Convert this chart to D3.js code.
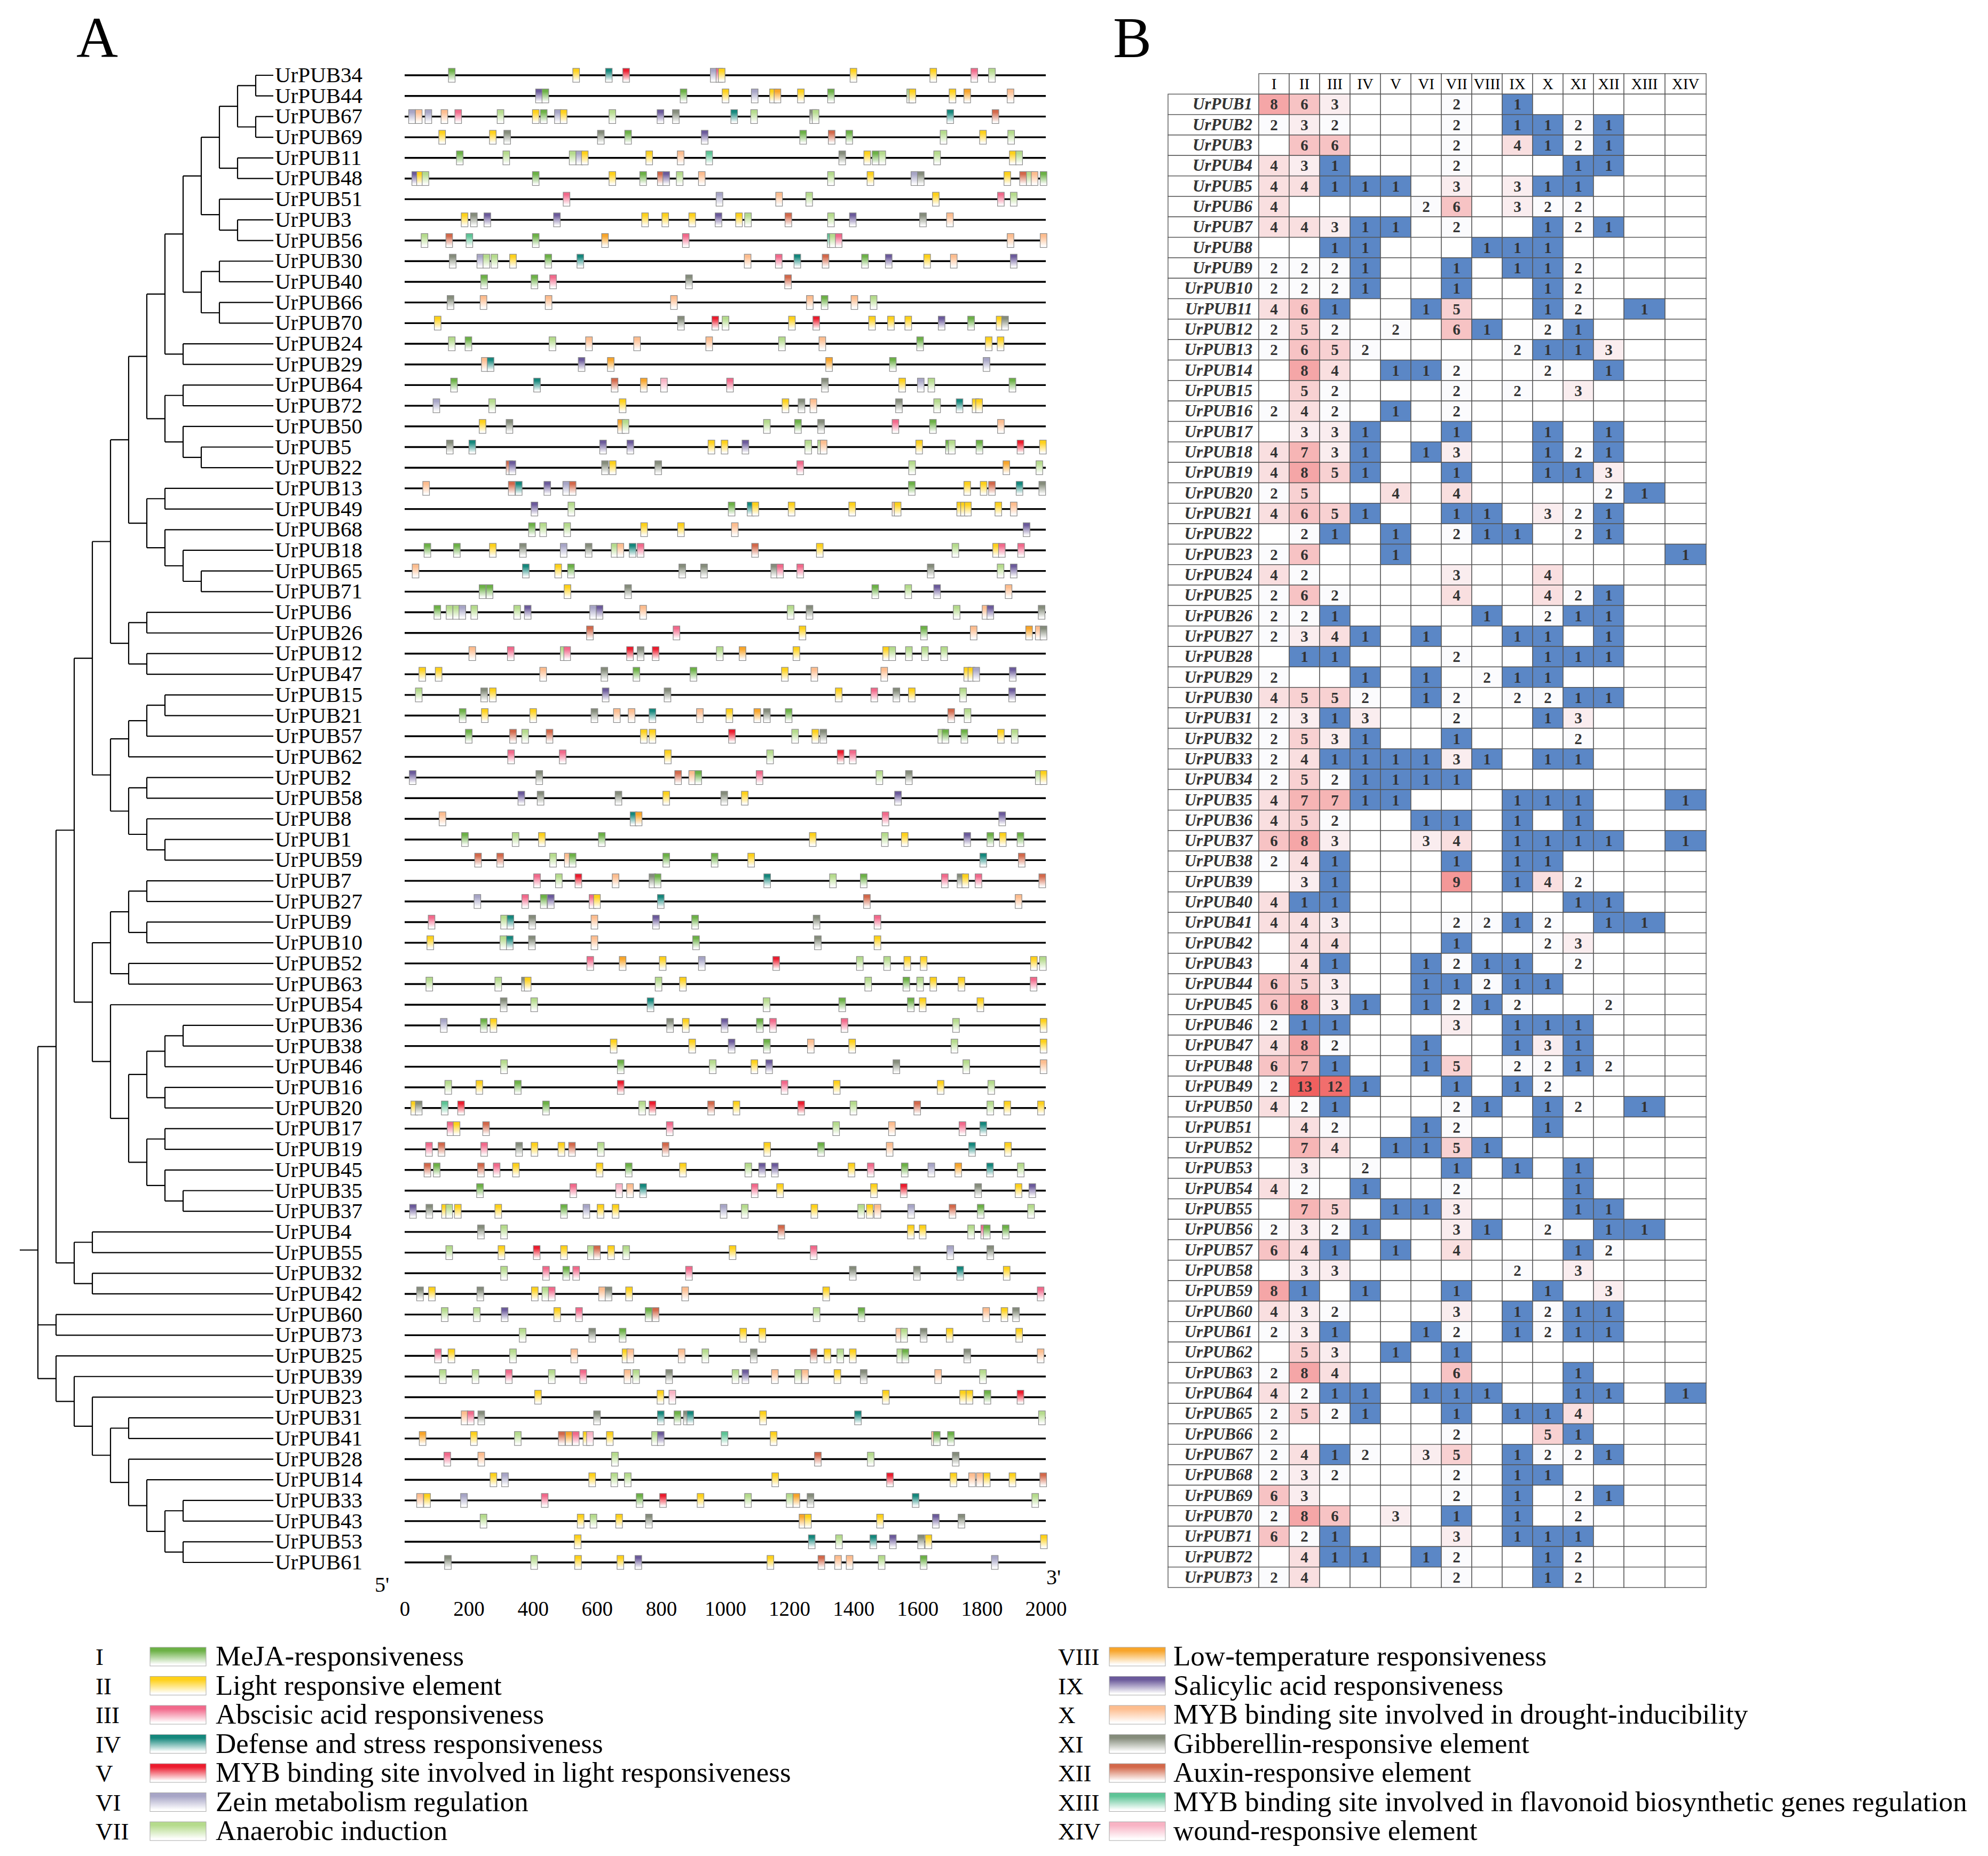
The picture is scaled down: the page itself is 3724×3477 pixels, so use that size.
<!DOCTYPE html>
<html>
<head>
<meta charset="utf-8">
<script src="https://cdn.jsdelivr.net/npm/d3@7"></script>
<style>
body { margin: 0; background: #fff; }
svg { display: block; }
</style>
</head>
<body>
<div id="chart"></div>
<script>
// element classes (legend order)
var classIds = ["I","II","III","IV","V","VI","VII","VIII","IX","X","XI","XII","XIII","XIV"];
var classNames = [
  "MeJA-responsiveness",
  "Light responsive element",
  "Abscisic acid responsiveness",
  "Defense and stress responsiveness",
  "MYB binding site involved in light responsiveness",
  "Zein metabolism regulation",
  "Anaerobic induction",
  "Low-temperature responsiveness",
  "Salicylic acid responsiveness",
  "MYB binding site involved in drought-inducibility",
  "Gibberellin-responsive element",
  "Auxin-responsive element",
  "MYB binding site involved in flavonoid biosynthetic genes regulation",
  "wound-responsive element"
];
var classColors = ["#6cb146","#ffd11a","#f2698b","#14877c","#ec1c2e","#a7a5c6","#b5db8c",
                   "#f8a52a","#6b5a9b","#fdbd8f","#858c7b","#d3684a","#5dc496","#f8b3c4"];

// cladogram (gene numbers, prefix UrPUB added when parsed)
var cladeUpper = "((((((((((34,44),(67,69)),(11,48)),(51,(3,56))),((30,40),(66,70))),(24,29)),((64,72),(50,(5,22)))),((13,49),(68,(18,(65,71))))),((6,26),(12,47))),((((15,21),57),62),((2,58),(8,(1,59)))))";
var cladeMiddle = "((((7,27),(9,10)),(52,63)),(54,((((36,38),46),(16,20)),((17,19),(45,(35,37))))))";
var cladeSmall = "((4,55),(32,42))";
var cladePair = "(60,73)";
var cladeLower = "(25,(39,(23,((31,41),(28,(14,((33,43),(53,61))))))))";
var treeNewick = "(((" + cladeUpper + "," + cladeMiddle + ")," + cladeSmall + ")," + cladePair + "," + cladeLower + ")";

// panel B counts, rows UrPUB1..UrPUB73, columns I..XIV (0 = empty)
var cisCounts = [
  [8,6,3,0,0,0,2,0,1,0,0,0,0,0],[2,3,2,0,0,0,2,0,1,1,2,1,0,0],[0,6,6,0,0,0,2,0,4,1,2,1,0,0],
  [4,3,1,0,0,0,2,0,0,0,1,1,0,0],[4,4,1,1,1,0,3,0,3,1,1,0,0,0],[4,0,0,0,0,2,6,0,3,2,2,0,0,0],
  [4,4,3,1,1,0,2,0,0,1,2,1,0,0],[0,0,1,1,0,0,0,1,1,1,0,0,0,0],[2,2,2,1,0,0,1,0,1,1,2,0,0,0],
  [2,2,2,1,0,0,1,0,0,1,2,0,0,0],[4,6,1,0,0,1,5,0,0,1,2,0,1,0],[2,5,2,0,2,0,6,1,0,2,1,0,0,0],
  [2,6,5,2,0,0,0,0,2,1,1,3,0,0],[0,8,4,0,1,1,2,0,0,2,0,1,0,0],[0,5,2,0,0,0,2,0,2,0,3,0,0,0],
  [2,4,2,0,1,0,2,0,0,0,0,0,0,0],[0,3,3,1,0,0,1,0,0,1,0,1,0,0],[4,7,3,1,0,1,3,0,0,1,2,1,0,0],
  [4,8,5,1,0,0,1,0,0,1,1,3,0,0],[2,5,0,0,4,0,4,0,0,0,0,2,1,0],[4,6,5,1,0,0,1,1,0,3,2,1,0,0],
  [0,2,1,0,1,0,2,1,1,0,2,1,0,0],[2,6,0,0,1,0,0,0,0,0,0,0,0,1],[4,2,0,0,0,0,3,0,0,4,0,0,0,0],
  [2,6,2,0,0,0,4,0,0,4,2,1,0,0],[2,2,1,0,0,0,0,1,0,2,1,1,0,0],[2,3,4,1,0,1,0,0,1,1,0,1,0,0],
  [0,1,1,0,0,0,2,0,0,1,1,1,0,0],[2,0,0,1,0,1,0,2,1,1,0,0,0,0],[4,5,5,2,0,1,2,0,2,2,1,1,0,0],
  [2,3,1,3,0,0,2,0,0,1,3,0,0,0],[2,5,3,1,0,0,1,0,0,0,2,0,0,0],[2,4,1,1,1,1,3,1,0,1,1,0,0,0],
  [2,5,2,1,1,1,1,0,0,0,0,0,0,0],[4,7,7,1,1,0,0,0,1,1,1,0,0,1],[4,5,2,0,0,1,1,0,1,0,1,0,0,0],
  [6,8,3,0,0,3,4,0,1,1,1,1,0,1],[2,4,1,0,0,0,1,0,1,1,0,0,0,0],[0,3,1,0,0,0,9,0,1,4,2,0,0,0],
  [4,1,1,0,0,0,0,0,0,0,1,1,0,0],[4,4,3,0,0,0,2,2,1,2,0,1,1,0],[0,4,4,0,0,0,1,0,0,2,3,0,0,0],
  [0,4,1,0,0,1,2,1,1,0,2,0,0,0],[6,5,3,0,0,1,1,2,1,1,0,0,0,0],[6,8,3,1,0,1,2,1,2,0,0,2,0,0],
  [2,1,1,0,0,0,3,0,1,1,1,0,0,0],[4,8,2,0,0,1,0,0,1,3,1,0,0,0],[6,7,1,0,0,1,5,0,2,2,1,2,0,0],
  [2,13,12,1,0,0,1,0,1,2,0,0,0,0],[4,2,1,0,0,0,2,1,0,1,2,0,1,0],[0,4,2,0,0,1,2,0,0,1,0,0,0,0],
  [0,7,4,0,1,1,5,1,0,0,0,0,0,0],[0,3,0,2,0,0,1,0,1,0,1,0,0,0],[4,2,0,1,0,0,2,0,0,0,1,0,0,0],
  [0,7,5,0,1,1,3,0,0,0,1,1,0,0],[2,3,2,1,0,0,3,1,0,2,0,1,1,0],[6,4,1,0,1,0,4,0,0,0,1,2,0,0],
  [0,3,3,0,0,0,0,0,2,0,3,0,0,0],[8,1,0,1,0,0,1,0,0,1,0,3,0,0],[4,3,2,0,0,0,3,0,1,2,1,1,0,0],
  [2,3,1,0,0,1,2,0,1,2,1,1,0,0],[0,5,3,0,1,0,1,0,0,0,0,0,0,0],[2,8,4,0,0,0,6,0,0,0,1,0,0,0],
  [4,2,1,1,0,1,1,1,0,0,1,1,0,1],[2,5,2,1,0,0,1,0,1,1,4,0,0,0],[2,0,0,0,0,0,2,0,0,5,1,0,0,0],
  [2,4,1,2,0,3,5,0,1,2,2,1,0,0],[2,3,2,0,0,0,2,0,1,1,0,0,0,0],[6,3,0,0,0,0,2,0,1,0,2,1,0,0],
  [2,8,6,0,3,0,1,0,1,0,2,0,0,0],[6,2,1,0,0,0,3,0,1,1,1,0,0,0],[0,4,1,1,0,1,2,0,0,1,2,0,0,0],
  [2,4,0,0,0,0,2,0,0,1,2,0,0,0]
];

// panel A: element position (bp from 5') and class, per gene
var promoterSites = [
  ["UrPUB34","147:I 535:II 637:IV 691:V 964:VI 982:III 989:II 1400:II 1649:II 1777:III 1832:VII"],
  ["UrPUB44","419:IX 439:I 870:I 1001:II 1092:VI 1149:II 1163:VIII 1236:II 1330:I 1577:VII 1584:II 1709:II 1755:VIII 1890:X"],
  ["UrPUB67","23:VI 44:X 74:VI 124:X 167:III 299:VII 409:II 434:I 478:VI 496:II 648:VII 798:IX 846:XI 1028:IV 1090:VII 1274:XI 1282:VII 1702:IV 1843:XII"],
  ["UrPUB69","117:II 275:II 320:XI 612:XI 697:I 936:IX 1243:I 1332:XII 1387:I 1681:VII 1804:II 1892:VII"],
  ["UrPUB11","172:I 317:VII 524:VII 545:VI 562:II 763:II 861:X 950:XIII 1365:XI 1443:II 1469:I 1490:VII 1661:VII 1897:II 1917:VII"],
  ["UrPUB48","33:IX 48:II 65:VII 409:I 648:II 744:I 799:XII 816:IX 858:VII 927:X 1330:VII 1453:II 1590:VI 1610:XI 1880:II 1929:XII 1950:VII 1965:X 1993:I"],
  ["UrPUB51","505:III 982:VI 1168:X 1262:VII 1657:II 1860:III 1900:VII"],
  ["UrPUB3","187:II 216:XI 258:IX 475:IX 750:II 813:II 897:II 979:IX 1043:II 1071:VII 1197:XII 1330:VII 1398:IX 1617:XI 1701:X"],
  ["UrPUB56","62:VII 139:XII 202:XIII 409:I 625:VIII 877:III 1329:XIII 1336:VII 1354:III 1890:X 1993:X"],
  ["UrPUB30","150:XI 236:VI 255:VII 280:VII 338:II 448:I 548:IV 1070:X 1167:III 1225:IV 1313:XII 1436:I 1510:IX 1630:II 1713:X 1900:IX"],
  ["UrPUB40","248:I 405:I 463:III 887:XI 1196:XII"],
  ["UrPUB66","143:XI 246:X 449:X 840:X 1264:X 1310:I 1403:X 1463:VII"],
  ["UrPUB70","103:II 862:XI 969:V 1001:VII 1208:II 1284:V 1458:II 1517:II 1571:II 1675:IX 1767:I 1856:II 1873:XI"],
  ["UrPUB24","147:VII 199:I 461:VII 575:X 725:X 950:X 1177:VII 1303:X 1608:I 1822:II 1859:II"],
  ["UrPUB29","250:X 268:IV 552:IX 643:VIII 1324:VIII 1523:I 1815:VI"],
  ["UrPUB64","154:I 413:IV 655:XII 746:VIII 809:XIV 1015:III 1311:XI 1552:II 1610:VI 1643:VII 1896:I"],
  ["UrPUB72","99:VI 273:VII 680:II 1188:II 1238:XI 1275:X 1542:XI 1661:VII 1731:IV 1781:II 1792:II"],
  ["UrPUB50","243:II 327:XI 675:VIII 689:VII 1130:VII 1227:I 1299:XI 1531:III 1648:I 1860:X"],
  ["UrPUB5","141:XI 211:IV 619:IX 704:IX 957:II 998:II 1063:IX 1259:VII 1299:VII 1307:X 1605:II 1698:I 1707:VII 1793:I 1921:V 1991:II"],
  ["UrPUB22","327:XII 336:IX 625:XI 649:II 791:XI 1234:III 1583:VII 1877:VIII 1980:VII"],
  ["UrPUB13","67:X 334:XII 356:IV 445:IX 504:VI 524:XII 1582:I 1755:II 1806:II 1832:XII 1918:IV 1989:XI"],
  ["UrPUB49","405:IX 520:VII 1020:I 1079:IV 1094:II 1207:II 1396:II 1531:X 1538:II 1733:II 1745:II 1757:II 1852:II 1900:X"],
  ["UrPUB68","397:I 432:VII 507:VII 747:II 862:II 1030:X 1940:IX"],
  ["UrPUB18","71:I 163:I 275:II 369:XI 496:VI 574:XI 655:VII 673:X 711:IV 736:III 1093:XII 1295:II 1718:VII 1845:II 1863:III 1923:III"],
  ["UrPUB65","34:X 378:IV 479:II 519:I 866:XI 934:XI 1153:XI 1171:III 1234:III 1641:XI 1859:VII 1900:IX"],
  ["UrPUB71","243:I 265:I 508:II 697:XI 1468:I 1571:VII 1661:IX 1884:X"],
  ["UrPUB6","102:I 140:VII 161:VII 180:VI 217:VII 351:VII 384:IX 588:VI 608:IX 744:X 1204:VII 1263:XI 1722:VII 1812:X 1827:IX 1987:XI"],
  ["UrPUB26","578:XII 848:III 1241:II 1620:I 1775:X 1948:VIII 1978:X 1993:XI"],
  ["UrPUB12","211:X 331:III 496:VII 507:III 703:V 736:XI 783:V 983:VII 1054:VIII 1222:II 1502:II 1521:VII 1573:VII 1623:VII 1683:VII"],
  ["UrPUB47","55:II 106:II 432:X 623:XI 723:I 901:I 1186:II 1278:X 1496:X 1755:II 1768:II 1783:VI 1897:IX"],
  ["UrPUB15","44:VII 248:XI 275:II 627:IX 820:XI 1354:II 1465:III 1534:XI 1582:II 1742:VII 1895:IX"],
  ["UrPUB21","181:I 250:II 401:II 592:XI 662:X 708:X 773:IV 921:X 1013:II 1100:VIII 1130:XI 1198:I 1705:XII 1756:VII"],
  ["UrPUB57","200:I 338:XII 376:VII 452:XII 746:II 773:II 1021:V 1218:VII 1281:II 1306:XI 1674:VII 1687:I 1746:I 1860:II 1903:VII"],
  ["UrPUB62","332:III 493:III 821:II 1140:VII 1360:V 1398:III"],
  ["UrPUB2","25:IX 420:XI 853:XII 897:X 916:I 1107:III 1481:VII 1573:XI 1978:VII 1993:II"],
  ["UrPUB58","364:IX 424:XI 667:XI 816:II 997:XI 1061:II 1539:IX"],
  ["UrPUB8","118:X 714:IV 730:VIII 1500:III 1864:IX"],
  ["UrPUB1","188:I 346:VII 428:II 615:I 1273:II 1498:VII 1560:II 1755:IX 1827:I 1866:II 1921:I"],
  ["UrPUB59","229:XII 298:XII 463:VII 509:X 524:I 816:I 967:I 1081:II 1805:IV 1925:XII"],
  ["UrPUB7","413:III 481:VII 542:V 658:X 773:XI 789:I 1131:IV 1336:VII 1432:I 1685:III 1734:XI 1749:II 1790:III 1989:XII"],
  ["UrPUB27","227:VI 376:III 434:I 456:IX 586:III 600:II 799:IV 1442:XII 1915:X"],
  ["UrPUB9","84:III 310:VII 330:IV 398:XI 592:X 784:IX 906:I 1285:XI 1475:III"],
  ["UrPUB10","80:II 308:VII 328:IV 397:XI 592:X 909:I 1289:XI 1475:II"],
  ["UrPUB52","579:III 680:VIII 805:II 927:VI 1159:V 1420:VII 1505:VII 1568:II 1619:II 1963:II 1991:VII"],
  ["UrPUB63","77:VII 292:VII 375:XI 384:II 792:VII 868:II 1446:VII 1565:I 1608:VII 1649:II 1737:II 1962:III"],
  ["UrPUB54","309:XI 404:VII 767:IV 1129:VII 1365:I 1579:I 1616:II 1796:II"],
  ["UrPUB36","122:VI 247:I 277:II 828:XI 877:II 998:IX 1108:I 1149:III 1372:III 1720:VII 1993:II"],
  ["UrPUB38","652:II 897:II 1020:IX 1130:I 1267:X 1396:II 1715:VII 1993:II"],
  ["UrPUB46","310:VII 674:I 961:VII 1091:II 1137:IX 1534:XI 1752:VII 1993:X"],
  ["UrPUB16","136:VII 233:II 353:I 674:V 1185:III 1348:II 1672:II 1830:VII"],
  ["UrPUB20","30:II 44:XI 125:XIII 176:V 441:I 741:VII 773:V 956:XII 1035:II 1237:V 1400:VII 1599:XII 1827:VII 1880:II 1985:II"],
  ["UrPUB17","143:III 162:II 254:XII 827:III 1346:VII 1520:X 1740:III 1805:IV"],
  ["UrPUB19","76:III 115:XII 248:III 357:XI 405:II 489:II 522:XII 612:VII 814:XII 1131:II 1299:I 1513:X 1770:IV 1882:II"],
  ["UrPUB45","71:XII 100:I 238:XII 287:III 347:II 608:II 699:I 868:II 1072:VII 1115:IX 1155:IX 1394:II 1454:III 1560:I 1643:VI 1727:VIII 1826:IV 1922:VII"],
  ["UrPUB35","235:I 526:III 669:XIV 703:X 744:IV 1092:III 1171:II 1464:II 1557:V 1789:XI 1915:II 1958:IX"],
  ["UrPUB37","26:IX 77:XI 126:II 139:VII 166:II 292:II 497:I 567:VI 611:II 658:II 995:VI 1061:VII 1278:II 1424:VII 1451:II 1475:X 1580:VI 1709:XII 1797:I 1954:VII"],
  ["UrPUB4","238:XI 310:VII 1175:XII 1579:II 1616:II 1767:VII 1808:III 1816:I 1875:I"],
  ["UrPUB55","139:VII 302:II 412:V 497:II 581:VII 600:XII 644:II 691:VII 1023:II 1276:III 1702:VI 1827:XI"],
  ["UrPUB32","310:VII 441:III 504:I 535:III 887:III 1398:XI 1598:XI 1733:IV 1878:II"],
  ["UrPUB42","48:XI 85:II 236:XI 406:II 439:VII 459:III 616:X 636:XI 700:II 875:X 1315:II 1984:III"],
  ["UrPUB60","125:VII 225:VII 312:IX 476:II 544:III 761:I 783:XII 1285:VII 1425:I 1814:X 1871:II 1907:XI"],
  ["UrPUB73","368:VII 585:XI 680:I 1056:II 1116:II 1543:X 1558:VII 1619:XI 1700:II 1917:II"],
  ["UrPUB25","104:III 146:II 338:VII 529:X 689:II 704:X 864:X 938:VII 1089:XI 1276:XII 1319:II 1359:VII 1398:II 1546:VII 1562:I 1755:XI 1984:X"],
  ["UrPUB39","119:VII 221:VII 325:III 459:VII 557:III 695:X 722:VII 825:XI 1032:VII 1063:IX 1155:X 1227:VII 1249:X 1350:II 1432:XI 1664:X 1804:VII"],
  ["UrPUB23","416:II 798:II 835:XIV 1501:II 1742:II 1762:II 1818:I 1921:V"],
  ["UrPUB31","187:X 206:III 239:XI 600:XI 799:IV 851:I 880:XI 891:IV 1118:II 1414:IV 1988:VII"],
  ["UrPUB41","56:VIII 216:II 353:VII 490:XII 512:VIII 534:III 567:II 578:XIV 640:II 781:VII 799:IX 998:XIII 1151:II 1654:X 1660:I 1704:I"],
  ["UrPUB28","133:III 239:X 656:VII 1289:XII 1454:VII 1719:XI"],
  ["UrPUB14","277:II 313:VI 585:II 654:VII 696:VII 1156:II 1514:V 1712:II 1770:X 1794:X 1816:II 1896:II 1992:XII"],
  ["UrPUB33","48:X 70:II 185:VI 437:III 733:I 806:V 923:II 1071:VII 1201:VII 1222:VIII 1266:XI 1594:IV 1967:VII"],
  ["UrPUB43","246:VII 549:II 589:VII 669:II 762:XI 1241:VIII 1258:II 1483:II 1657:IX 1737:XI"],
  ["UrPUB53","540:II 1270:IV 1355:VII 1462:IV 1523:IX 1611:XI 1634:II 1994:II"],
  ["UrPUB61","135:XI 404:VII 541:II 673:II 729:IX 1141:II 1300:XII 1352:X 1388:X 1488:VII 1619:I 1841:VI"]
];

var axisTicks = [0,200,400,600,800,1000,1200,1400,1600,1800,2000];

var W = 3724, H = 3477;
var serif = "'Liberation Serif','Times New Roman',serif";

var svg = d3.select("#chart").append("svg")
  .attr("width", W).attr("height", H)
  .style("font-family", serif);

svg.append("rect").attr("width", W).attr("height", H).attr("fill", "#fff");

var defs = svg.append("defs");
classColors.forEach(function(c, i) {
  var g = defs.append("linearGradient").attr("id", "grad" + i)
    .attr("x1", 0).attr("y1", 0).attr("x2", 0).attr("y2", 1);
  g.append("stop").attr("offset", "0%").attr("stop-color", c);
  g.append("stop").attr("offset", "18%").attr("stop-color", c);
  g.append("stop").attr("offset", "92%").attr("stop-color", "#ffffff");
});

// panel letters
svg.append("text").attr("x", 143).attr("y", 107).attr("font-size", 108).text("A");
svg.append("text").attr("x", 2085).attr("y", 107).attr("font-size", 108).text("B");

// ---- tree ----
function parseNewick(s) {
  var i = 0;
  function node() {
    if (s[i] === "(") {
      i++;
      var kids = [node()];
      while (s[i] === ",") { i++; kids.push(node()); }
      i++;
      return { children: kids };
    }
    var j = i;
    while (i < s.length && ",()".indexOf(s[i]) < 0) i++;
    return { name: "UrPUB" + s.slice(j, i) };
  }
  return node();
}

var root = d3.hierarchy(parseNewick(treeNewick));
var leaves = root.leaves();
var rowY = d3.scaleLinear().domain([0, leaves.length - 1]).range([141, 2927]);
var depthX = d3.scaleLinear().domain([0, 1]).range([71, 105]);
var leafX = 512;

leaves.forEach(function(d, i) { d.py = rowY(i); });
root.eachAfter(function(d) {
  if (d.children) d.py = d3.mean(d.children, function(c) { return c.py; });
  d.px = d.children ? depthX(d.depth) : leafX;
});

var tree = svg.append("g").attr("stroke", "#000").attr("stroke-width", 2.2).attr("fill", "none");
root.descendants().filter(function(d) { return d.children; }).forEach(function(d) {
  var ys = d.children.map(function(c) { return c.py; });
  tree.append("line").attr("x1", d.px).attr("x2", d.px)
    .attr("y1", d3.min(ys)).attr("y2", d3.max(ys));
  d.children.forEach(function(c) {
    tree.append("line").attr("x1", d.px).attr("x2", c.px).attr("y1", c.py).attr("y2", c.py);
  });
});
tree.append("line").attr("x1", 37).attr("x2", root.px).attr("y1", root.py).attr("y2", root.py);

svg.append("g").selectAll("text").data(leaves).join("text")
  .attr("x", 515).attr("y", function(d) { return d.py + 13; })
  .attr("font-size", 41)
  .text(function(d) { return d.data.name; });

// ---- promoter elements ----
var x = d3.scaleLinear().domain([0, 2000]).range([758, 1959]);
var siteMap = new Map(promoterSites);
var boxW = 12.5, boxH = 26;

var genes = svg.append("g");
leaves.forEach(function(leaf) {
  var y = leaf.py;
  var row = genes.append("g");
  row.append("line").attr("x1", x(0)).attr("x2", x(2000)).attr("y1", y).attr("y2", y)
    .attr("stroke", "#000").attr("stroke-width", 3.4);
  var sites = (siteMap.get(leaf.data.name) || "").split(" ").filter(Boolean).map(function(s) {
    var p = s.split(":");
    return { pos: +p[0], cls: classIds.indexOf(p[1]) };
  });
  row.selectAll("rect").data(sites).join("rect")
    .attr("x", function(d) { return x(d.pos) - boxW / 2; })
    .attr("y", y - boxH / 2)
    .attr("width", boxW).attr("height", boxH)
    .attr("fill", function(d) { return "url(#grad" + d.cls + ")"; })
    .attr("stroke", "#8a8a8a").attr("stroke-width", 1.2);
});

var axis = d3.axisBottom(x).tickValues(axisTicks).tickSize(0).tickPadding(8).tickFormat(d3.format("d"));
var axG = svg.append("g").attr("transform", "translate(0,2991)").call(axis);
axG.select(".domain").remove();
axG.selectAll("text").attr("font-size", 39).attr("font-family", serif).attr("fill", "#000");

svg.append("text").attr("x", 702).attr("y", 2982).attr("font-size", 40).text("5'");
svg.append("text").attr("x", 1960).attr("y", 2968).attr("font-size", 40).text("3'");

// ---- panel B table ----
var tableLeft = 2188;
var colW = [170].concat(d3.range(12).map(function() { return 57; }), [77, 77]);
var colX = [tableLeft].concat(Array.from(d3.cumsum(colW), function(v) { return tableLeft + v; }));
var tableGenes = d3.range(1, 74).map(function(n) { return "UrPUB" + n; });
var rowBand = d3.scaleBand().domain(["header"].concat(tableGenes)).range([138, 2974]);
var rh = rowBand.bandwidth();

var heat = d3.scaleLinear().domain([2, 13]).range(["#fbfbfd", "#f0605f"]);
function cellFill(v) {
  if (!v) return "#ffffff";
  if (v === 1) return "#5b87c6";
  return heat(v);
}

var tbl = svg.append("g");
// header
classIds.forEach(function(c, j) {
  tbl.append("rect").attr("x", colX[j + 1]).attr("y", rowBand("header"))
    .attr("width", colW[j + 1]).attr("height", rh)
    .attr("fill", "#fff").attr("stroke", "#555").attr("stroke-width", 1.4);
  tbl.append("text").attr("x", colX[j + 1] + colW[j + 1] / 2).attr("y", rowBand("header") + rh / 2 + 10)
    .attr("text-anchor", "middle").attr("font-size", 29).text(c);
});

tableGenes.forEach(function(g, i) {
  var y0 = rowBand(g);
  tbl.append("rect").attr("x", colX[0]).attr("y", y0).attr("width", colW[0]).attr("height", rh)
    .attr("fill", "#fff").attr("stroke", "#555").attr("stroke-width", 1.4);
  tbl.append("text").attr("x", colX[1] - 12).attr("y", y0 + rh / 2 + 10)
    .attr("text-anchor", "end").attr("font-size", 31)
    .attr("font-weight", "bold").attr("font-style", "italic").attr("fill", "#333")
    .text(g);
  cisCounts[i].forEach(function(v, j) {
    tbl.append("rect").attr("x", colX[j + 1]).attr("y", y0)
      .attr("width", colW[j + 1]).attr("height", rh)
      .attr("fill", cellFill(v)).attr("stroke", "#555").attr("stroke-width", 1.4);
    if (v) {
      tbl.append("text").attr("x", colX[j + 1] + colW[j + 1] / 2).attr("y", y0 + rh / 2 + 10)
        .attr("text-anchor", "middle").attr("font-size", 29).attr("font-weight", "bold")
        .attr("fill", "#333").text(v);
    }
  });
});

// ---- legend ----
var legY = d3.scaleLinear().domain([0, 6]).range([3103, 3430]);
var leg = svg.append("g");
classIds.forEach(function(c, i) {
  var colIdx = i < 7 ? 0 : 1;
  var r = i % 7;
  var numX = colIdx ? 1982 : 179;
  var swX = colIdx ? 2078 : 281;
  var txX = colIdx ? 2198 : 404;
  var cy = legY(r);
  leg.append("text").attr("x", numX).attr("y", cy + 16).attr("font-size", 45).text(c);
  leg.append("rect").attr("x", swX).attr("y", cy - 17).attr("width", 105).attr("height", 35)
    .attr("fill", "url(#grad" + i + ")").attr("stroke", "#aaa").attr("stroke-width", 1);
  leg.append("text").attr("x", txX).attr("y", cy + 17).attr("font-size", 53).text(classNames[i]);
});
</script>
</body>
</html>
